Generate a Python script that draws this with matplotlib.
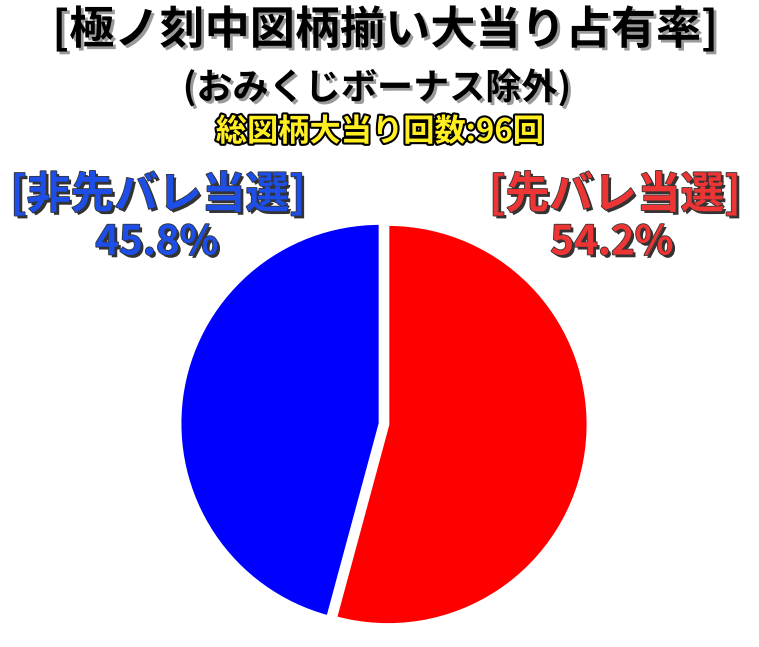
import matplotlib
matplotlib.use("Agg")
import matplotlib.pyplot as plt
import matplotlib.patheffects as pe

plt.rcParams['font.family'] = ['Noto Sans CJK JP', 'DejaVu Sans']

# データ
labels = ["先バレ当選", "非先バレ当選"]
shares = [54.2, 45.8]
total_hits = 96
pie_colors = ["#ff0000", "#0000ff"]
label_colors = ["#ee3535", "#1d4ee8"]

W, H = 759, 647
fig = plt.figure(figsize=(W / 100, H / 100), dpi=100)

def fx(x):
    return x / W

def fy(y):
    return 1 - y / H

# 円グラフ
cx, cy, r = 384, 424, 200
ax = fig.add_axes([fx(cx - 1.05 * r), fy(cy + 1.05 * r), 2.1 * r / W, 2.1 * r / H])
ax.pie(shares, colors=pie_colors, startangle=90, counterclock=False,
       explode=[0.02, 0.02], wedgeprops=dict(edgecolor="white", linewidth=2))
ax.set_xlim(-1.05, 1.05)
ax.set_ylim(-1.05, 1.05)
ax.set_aspect("equal")
ax.axis("off")

shadow = [pe.SimplePatchShadow(offset=(2, -2), shadow_rgbFace="#9a9a9a", alpha=1), pe.Normal()]
dark_shadow = [pe.Stroke(linewidth=1.2, foreground="#333333"),
               pe.SimplePatchShadow(offset=(2, -2), shadow_rgbFace="#333333", alpha=1), pe.Normal()]

# タイトル
fig.text(fx(385), fy(30), "[極ノ刻中図柄揃い大当り占有率]", ha="center", va="center",
         fontsize=32.5, fontweight="bold", color="black", path_effects=shadow)
fig.text(fx(377), fy(88), "(おみくじボーナス除外)", ha="center", va="center",
         fontsize=26, fontweight="bold", color="black", path_effects=shadow)
fig.text(fx(380), fy(132), "総図柄大当り回数:%d回" % total_hits, ha="center", va="center",
         fontsize=22.5, fontweight="bold", color="#ffee22",
         path_effects=[pe.Stroke(linewidth=3, foreground="black"), pe.Normal()])

# ラベル
fig.text(fx(615), fy(195), "[%s]" % labels[0], ha="center", va="center",
         fontsize=31.5, fontweight="bold", color=label_colors[0], path_effects=dark_shadow)
fig.text(fx(612), fy(243), "%.1f%%" % shares[0], ha="center", va="center",
         fontsize=29, fontweight="bold", color=label_colors[0], path_effects=dark_shadow)
fig.text(fx(158), fy(195), "[%s]" % labels[1], ha="center", va="center",
         fontsize=31.5, fontweight="bold", color=label_colors[1], path_effects=dark_shadow)
fig.text(fx(157), fy(243), "%.1f%%" % shares[1], ha="center", va="center",
         fontsize=29, fontweight="bold", color=label_colors[1], path_effects=dark_shadow)

fig.savefig("out.png", dpi=100)
